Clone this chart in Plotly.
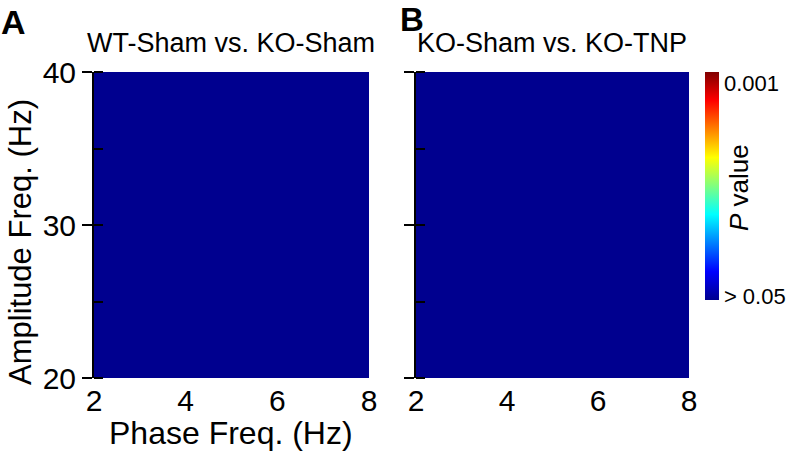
import plotly.graph_objects as go

# ---- data ----
phase_freq = [2, 3, 4, 5, 6, 7, 8]          # Hz (x)
amp_freq = [20, 25, 30, 35, 40]             # Hz (y)
# significance level (0 = P > 0.05, 1 = P = 0.001)
sig_wt_sham_vs_ko_sham = [
    [0, 0, 0, 0, 0, 0, 0],
    [0, 0, 0, 0, 0, 0, 0],
    [0, 0, 0, 0, 0, 0, 0],
    [0, 0, 0, 0, 0, 0, 0],
    [0, 0, 0, 0, 0, 0, 0],
]
sig_ko_sham_vs_ko_tnp = [
    [0, 0, 0, 0, 0, 0, 0],
    [0, 0, 0, 0, 0, 0, 0],
    [0, 0, 0, 0, 0, 0, 0],
    [0, 0, 0, 0, 0, 0, 0],
    [0, 0, 0, 0, 0, 0, 0],
]
x_ticks = [2, 4, 6, 8]
y_ticks = [20, 30, 40]
cbar_tickvals = [0.018, 0.952]
cbar_ticktext = ["> 0.05", "0.001"]
titles = ["WT-Sham vs. KO-Sham", "KO-Sham vs. KO-TNP"]

W, H = 793, 455
FONT = "Arial, Liberation Sans, sans-serif"

jet = [
    [0.0, "rgb(0,0,143)"],
    [0.125, "rgb(0,0,255)"],
    [0.375, "rgb(0,255,255)"],
    [0.625, "rgb(255,255,0)"],
    [0.875, "rgb(255,0,0)"],
    [1.0, "rgb(128,0,0)"],
]

def px_x(p):
    return p / W

def px_y(p):
    return 1 - p / H

fig = go.Figure()
fig.add_trace(go.Heatmap(
    x=phase_freq, y=amp_freq, z=sig_wt_sham_vs_ko_sham,
    zmin=0, zmax=1, colorscale=jet, xaxis="x", yaxis="y",
    hoverinfo="skip",
    colorbar=dict(
        x=px_x(705), xanchor="left", y=px_y(72), yanchor="top",
        len=228 / H, lenmode="fraction", thickness=14, thicknessmode="pixels",
        xpad=0, ypad=0, outlinewidth=0, ticks="",
        tickvals=cbar_tickvals, ticktext=cbar_ticktext,
        tickfont=dict(family=FONT, size=22, color="black"),
    ),
))
fig.add_trace(go.Heatmap(
    x=phase_freq, y=amp_freq, z=sig_ko_sham_vs_ko_tnp,
    zmin=0, zmax=1, colorscale=jet, xaxis="x2", yaxis="y2",
    hoverinfo="skip", showscale=False,
))

xaxis_common = dict(
    range=[2, 8], tickvals=x_ticks, showgrid=False, zeroline=False,
    showline=False, ticks="", ticklabelstandoff=2,
    tickfont=dict(family=FONT, size=30, color="black"),
)
yaxis_common = dict(
    range=[20, 40], tickvals=y_ticks, showgrid=False, zeroline=False,
    showline=True, linecolor="black", linewidth=2,
    ticks="outside", ticklen=10, tickwidth=2, tickcolor="black",
    minor=dict(dtick=5, ticks="inside", ticklen=9, tickwidth=2, tickcolor="black"),
    tickfont=dict(family=FONT, size=30, color="black"),
)

fig.update_layout(
    width=W, height=H,
    margin=dict(l=0, r=0, t=0, b=0, autoexpand=False),
    paper_bgcolor="white", plot_bgcolor="white",
    showlegend=False,
    font=dict(family=FONT, color="black"),
    xaxis=dict(domain=[px_x(94), px_x(369)], anchor="y", **xaxis_common),
    yaxis=dict(domain=[px_y(378), px_y(72)], anchor="x", **yaxis_common),
    xaxis2=dict(domain=[px_x(416), px_x(689)], anchor="y2", **xaxis_common),
    yaxis2=dict(domain=[px_y(378), px_y(72)], anchor="x2", showticklabels=False,
                **{k: v for k, v in yaxis_common.items() if k != "tickfont"}),
)

ann = []
# panel letters
ann.append(dict(text="<b>A</b>", x=px_x(-1), y=px_y(22), xanchor="left", yanchor="middle",
                font=dict(size=34, family=FONT)))
ann.append(dict(text="<b>B</b>", x=px_x(398), y=px_y(20), xanchor="left", yanchor="middle",
                font=dict(size=33, family=FONT)))
# panel titles
ann.append(dict(text=titles[0], x=px_x(231), y=px_y(43), xanchor="center", yanchor="middle",
                font=dict(size=27, family=FONT)))
ann.append(dict(text=titles[1], x=px_x(552), y=px_y(43), xanchor="center", yanchor="middle",
                font=dict(size=27, family=FONT)))
# axis titles
ann.append(dict(text="Phase Freq. (Hz)", x=px_x(231), y=px_y(433), xanchor="center", yanchor="middle",
                font=dict(size=32, family=FONT)))
ann.append(dict(text="Amplitude Freq. (Hz)", x=px_x(20), y=px_y(242), xanchor="center", yanchor="middle",
                textangle=-90, font=dict(size=31, family=FONT)))
# colorbar title
ann.append(dict(text="<i>P</i> value", x=px_x(739), y=px_y(188), xanchor="center", yanchor="middle",
                textangle=-90, font=dict(size=26, family=FONT)))
for a in ann:
    a.update(xref="paper", yref="paper", showarrow=False)
fig.update_layout(annotations=ann)

fig.write_html(
    "out.html",
    config={"displayModeBar": False},
    post_script="document.body.style.margin='0';document.body.style.overflow='hidden';",
)
